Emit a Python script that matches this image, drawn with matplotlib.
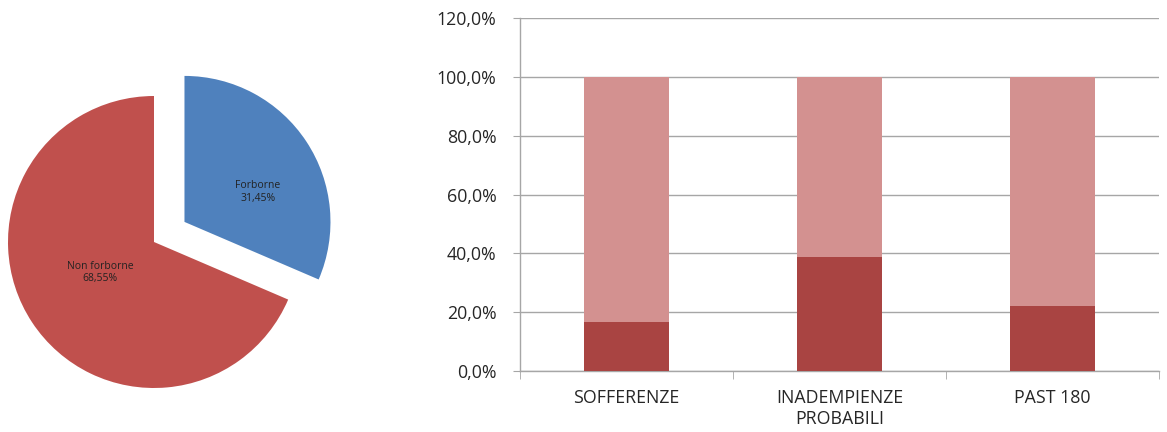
import matplotlib
matplotlib.use("Agg")
import matplotlib.pyplot as plt
from matplotlib.ticker import FuncFormatter, FixedLocator

# Pie data
pie_labels = ["Forborne", "Non forborne"]
pie_values = [31.45, 68.55]
pie_colors = ["#4F81BD", "#C0504D"]

# Stacked bar data (share of each category)
categories = ["SOFFERENZE", "INADEMPIENZE\nPROBABILI", "PAST 180"]
forborne_share = [0.167, 0.388, 0.221]
total_share = [1.0, 1.0, 1.0]

plt.rcParams["font.family"] = ["Open Sans", "DejaVu Sans"]

fig = plt.figure(figsize=(11.67, 4.32), dpi=100)
fig.patch.set_facecolor("white")

# ---- Pie chart ----
pax = fig.add_axes([0, 0, 350 / 1167, 1])
wedges, _ = pax.pie(pie_values, colors=pie_colors, startangle=90,
                    counterclock=False, explode=[0.25, 0.0],
                    wedgeprops=dict(linewidth=0))
r_px = 146.0
cx, cy = 154.0, 190.0
pax.set_aspect("auto")
pax.set_xlim(-cx / r_px, (350 - cx) / r_px)
pax.set_ylim(-cy / r_px, (432 - cy) / r_px)
pax.axis("off")
label_pos = [(0.712, 0.342), (-0.37, -0.21)]
for lab, val, (x, y) in zip(pie_labels, pie_values, label_pos):
    pax.text(x, y, f"{lab}\n{val:.2f}%".replace(".", ","), ha="center",
             va="center", fontsize=7.5, color="#222222", linespacing=1.2)

# ---- Stacked bars ----
bax = fig.add_axes([520 / 1167, 61 / 432, 639 / 1167, 353 / 432])
x = list(range(len(categories)))
rest = [t - f for t, f in zip(total_share, forborne_share)]
bax.bar(x, forborne_share, width=0.4, color="#A94442", zorder=3)
bax.bar(x, rest, bottom=forborne_share, width=0.4, color="#D39190", zorder=3)

bax.set_xlim(-0.5, 2.5)
bax.set_ylim(0, 1.2)
bax.set_yticks([i * 0.2 for i in range(7)])
bax.yaxis.set_major_formatter(
    FuncFormatter(lambda v, p: f"{v * 100:.1f}%".replace(".", ",")))
bax.grid(axis="y", color="#A6A6A6", linewidth=1, zorder=0)
bax.set_xticks(x)
bax.set_xticklabels(categories)
bax.xaxis.set_minor_locator(FixedLocator([-0.5, 0.5, 1.5, 2.5]))
bax.tick_params(axis="x", which="major", length=0, pad=13,
                labelsize=12.8, labelcolor="#262626")
bax.tick_params(axis="x", which="minor", length=6, color="#A6A6A6")
bax.tick_params(axis="y", length=5, color="#A6A6A6", labelsize=12.8,
                labelcolor="#262626", pad=12)
for s in ["top", "right"]:
    bax.spines[s].set_visible(False)
for s in ["left", "bottom"]:
    bax.spines[s].set_color("#A6A6A6")
    bax.spines[s].set_linewidth(1)

fig.savefig("out.png", dpi=100, facecolor="white")
